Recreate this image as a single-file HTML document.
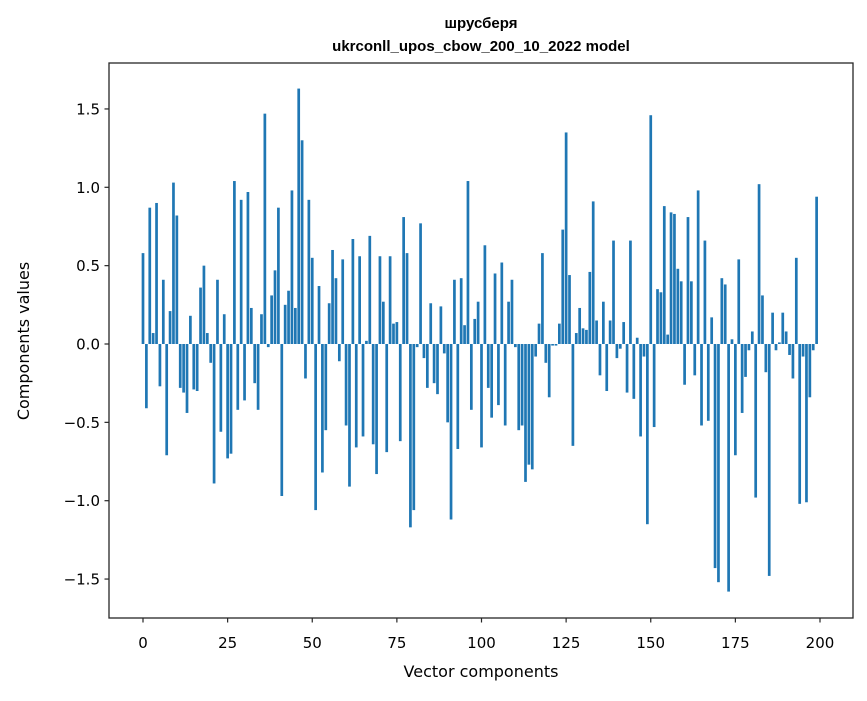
<!DOCTYPE html>
<html><head><meta charset="utf-8"><style>
body{margin:0;background:#fff;}
svg text{font-family:"DejaVu Sans","Liberation Sans",sans-serif;fill:#000;}
svg text.title{font-family:"Liberation Sans","DejaVu Sans",sans-serif;}
</style></head><body>
<svg id="chart" width="867" height="696" xmlns="http://www.w3.org/2000/svg">
<text class="title" x="481" y="28" text-anchor="middle" font-size="15" font-weight="bold">шрусберя</text>
<text class="title" x="481" y="51" text-anchor="middle" font-size="15" font-weight="bold">ukrconll_upos_cbow_200_10_2022 model</text>
<g id="bars"></g>
<g id="axes"></g>
<text x="481" y="677" text-anchor="middle" font-size="16">Vector components</text>
<text transform="translate(29,341) rotate(-90)" text-anchor="middle" font-size="16">Components values</text>
</svg>
<script>
const values = [0.58,-0.41,0.87,0.07,0.90,-0.27,0.41,-0.71,0.21,1.03,
0.82,-0.28,-0.31,-0.44,0.18,-0.29,-0.30,0.36,0.50,0.07,
-0.12,-0.89,0.41,-0.56,0.19,-0.73,-0.70,1.04,-0.42,0.92,
-0.36,0.97,0.23,-0.25,-0.42,0.19,1.47,-0.02,0.31,0.47,
0.87,-0.97,0.25,0.34,0.98,0.23,1.63,1.30,-0.22,0.92,
0.55,-1.06,0.37,-0.82,-0.55,0.26,0.60,0.42,-0.11,0.54,
-0.52,-0.91,0.67,-0.66,0.56,-0.59,0.02,0.69,-0.64,-0.83,
0.56,0.27,-0.69,0.56,0.13,0.14,-0.62,0.81,0.58,-1.17,
-1.06,-0.02,0.77,-0.09,-0.28,0.26,-0.25,-0.32,0.24,-0.06,
-0.50,-1.12,0.41,-0.67,0.42,0.12,1.04,-0.42,0.16,0.27,
-0.66,0.63,-0.28,-0.47,0.45,-0.39,0.52,-0.52,0.27,0.41,
-0.02,-0.55,-0.52,-0.88,-0.77,-0.80,-0.08,0.13,0.58,-0.12,
-0.34,-0.01,-0.01,0.13,0.73,1.35,0.44,-0.65,0.07,0.23,
0.10,0.09,0.46,0.91,0.15,-0.20,0.27,-0.30,0.15,0.66,
-0.09,-0.03,0.14,-0.31,0.66,-0.35,0.04,-0.59,-0.08,-1.15,
1.46,-0.53,0.35,0.33,0.88,0.06,0.84,0.83,0.48,0.40,
-0.26,0.81,0.40,-0.20,0.98,-0.52,0.66,-0.49,0.17,-1.43,
-1.52,0.42,0.38,-1.58,0.03,-0.71,0.54,-0.44,-0.21,-0.04,
0.08,-0.98,1.02,0.31,-0.18,-1.48,0.20,-0.04,0.01,0.20,
0.08,-0.07,-0.22,0.55,-1.02,-0.08,-1.01,-0.34,-0.04,0.94];
const xTicks = [0,25,50,75,100,125,150,175,200];
const yTicks = [-1.5,-1.0,-0.5,0.0,0.5,1.0,1.5];
const yTickLabels = ["−1.5","−1.0","−0.5","0.0","0.5","1.0","1.5"];

const NS="http://www.w3.org/2000/svg";
const L=109,R=853,T=63,B=618;
function xs(v){return 143+(v)*(820-143)/200;}
function ys(v){return 344-v*156.7;}
const bars=document.getElementById('bars');
const bw=0.8*(820-143)/200;
values.forEach((v,i)=>{
  const r=document.createElementNS(NS,'rect');
  
  
  const y0=ys(0),y1=ys(v);
  r.setAttribute('x',xs(i)-bw/2);
  r.setAttribute('y',Math.min(y0,y1));
  r.setAttribute('width',bw);
  r.setAttribute('height',Math.max(Math.abs(y1-y0),0.5));
  r.setAttribute('fill','#1f77b4');
  bars.appendChild(r);
});
const axes=document.getElementById('axes');
const frame=document.createElementNS(NS,'rect');


frame.setAttribute('x',L);frame.setAttribute('y',T);
frame.setAttribute('width',R-L);frame.setAttribute('height',B-T);
frame.setAttribute('fill','none');frame.setAttribute('stroke','#262626');frame.setAttribute('stroke-width','1.3');
axes.appendChild(frame);
xTicks.forEach(t=>{
  const x=xs(t);
  const l=document.createElementNS(NS,'line');
  
  
  l.setAttribute('x1',x);l.setAttribute('x2',x);l.setAttribute('y1',B);l.setAttribute('y2',B+4.5);
  l.setAttribute('stroke','#262626');l.setAttribute('stroke-width','1.2');
  axes.appendChild(l);
  const tx=document.createElementNS(NS,'text');
  
  
  tx.setAttribute('x',x);tx.setAttribute('y',B+30);
  tx.setAttribute('text-anchor','middle');tx.setAttribute('font-size','15');
  tx.textContent=t;
  axes.appendChild(tx);
});
yTicks.forEach((t,i)=>{
  const y=ys(t);
  const l=document.createElementNS(NS,'line');
  
  
  l.setAttribute('x1',L-4.5);l.setAttribute('x2',L);l.setAttribute('y1',y);l.setAttribute('y2',y);
  l.setAttribute('stroke','#262626');l.setAttribute('stroke-width','1.2');
  axes.appendChild(l);
  const tx=document.createElementNS(NS,'text');
  
  
  tx.setAttribute('x',L-9);tx.setAttribute('y',y+5.5);
  tx.setAttribute('text-anchor','end');tx.setAttribute('font-size','15');
  tx.textContent=yTickLabels[i];
  axes.appendChild(tx);
});
</script>
</body></html>
